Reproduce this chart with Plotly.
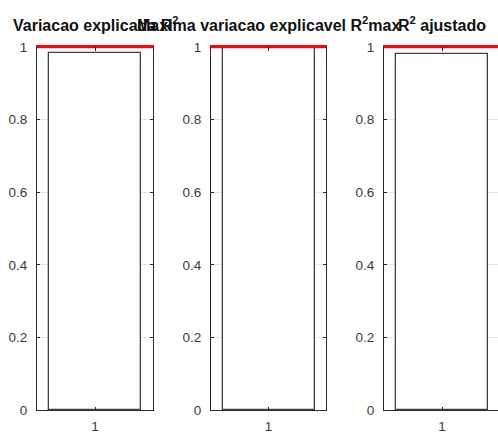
import plotly.graph_objects as go

# Model fit summary: one bar per panel, reference line at the maximum (1)
panel_titles = ["Variacao explicada R<sup>2</sup>",
                "Maxima variacao explicavel R<sup>2</sup>max",
                "R<sup>2</sup> ajustado"]
categories = [1]
r2_values = [0.983]
r2max_values = [1.0]
r2adj_values = [0.980]
reference_level = [1.0, 1.0]
reference_x = [0.5, 1.5]
y_ticks = [0, 0.2, 0.4, 0.6, 0.8, 1]
y_tick_labels = ["0", "0.2", "0.4", "0.6", "0.8", "1"]

W, H = 498, 433
FONT = "Liberation Sans, Arial, Helvetica, sans-serif"
AXIS_COLOR = "#2a2a2a"
GRID_COLOR = "#e4e4e4"
RED = "#e01010"
TICK_FONT = dict(family=FONT, size=13.5, color="#3a3a3a")

# panel extents in pixels (left, right); the third panel runs past the window edge
panels_px = [(37, 153), (211, 326), (384, 500)]
top_px, bottom_px = 47, 410

fig = go.Figure()
series = [r2_values, r2max_values, r2adj_values]
n_panels = len(series)

for i, (vals, (l, r)) in enumerate(zip(series, panels_px)):
    n = i + 1
    xa = "x" if n == 1 else f"x{n}"
    ya = "y" if n == 1 else f"y{n}"
    top_n = n + n_panels  # overlay x axis carrying the top edge of the box
    fig.add_trace(go.Bar(x=categories, y=vals, width=0.8,
                         marker=dict(color="white",
                                     line=dict(color="#404040", width=1.3)),
                         xaxis=xa, yaxis=ya, showlegend=False,
                         hoverinfo="skip"))
    # red reference line at the maximum level
    fig.add_trace(go.Scatter(x=reference_x, y=reference_level, mode="lines",
                             line=dict(color=RED, width=2.4),
                             xaxis=xa, yaxis=ya, showlegend=False,
                             hoverinfo="skip"))

    clipped_r = min(r, W)
    x_hi = 0.5 + (clipped_r - l) / (r - l)
    x_dom = [l / W, clipped_r / W]
    y_dom = [(H - bottom_px) / H, (H - top_px) / H]
    mirror = "ticks" if r <= W else False

    xkey = "xaxis" if n == 1 else f"xaxis{n}"
    ykey = "yaxis" if n == 1 else f"yaxis{n}"
    fig.update_layout({
        xkey: dict(domain=x_dom, range=[0.5, x_hi], anchor=ya, side="bottom",
                   tickvals=categories, ticktext=["1"],
                   ticks="inside", ticklen=3, tickcolor=AXIS_COLOR,
                   showline=True, linecolor=AXIS_COLOR, linewidth=1,
                   mirror=False, showgrid=True, gridcolor=GRID_COLOR,
                   zeroline=False, fixedrange=True, automargin=False,
                   ticklabelstandoff=4, tickfont=TICK_FONT),
        f"xaxis{top_n}": dict(domain=x_dom, range=[0.5, x_hi], anchor=ya,
                              overlaying=xa, side="top",
                              tickvals=categories, showticklabels=False,
                              ticks="inside", ticklen=4, tickcolor=AXIS_COLOR,
                              showline=True, linecolor=RED, linewidth=1.8,
                              showgrid=False, zeroline=False, fixedrange=True,
                              automargin=False),
        ykey: dict(domain=y_dom, range=[0, 1], anchor=xa,
                   tickvals=y_ticks, ticktext=y_tick_labels,
                   ticks="inside", ticklen=3, tickcolor=AXIS_COLOR,
                   showline=True, linecolor=AXIS_COLOR, linewidth=1,
                   mirror=mirror, showgrid=True, gridcolor=GRID_COLOR,
                   zeroline=False, fixedrange=True, automargin=False,
                   ticklabelstandoff=6, tickfont=TICK_FONT),
    })
    # empty trace so the top overlay axis is drawn
    fig.add_trace(go.Scatter(x=[], y=[], xaxis=f"x{top_n}", yaxis=ya,
                             showlegend=False, hoverinfo="skip"))

annotations = []
for title, (l, r) in zip(panel_titles, panels_px):
    annotations.append(dict(text=f"<b>{title}</b>", x=(l + r) / 2 / W,
                            y=(H - 24) / H, xref="paper", yref="paper",
                            xanchor="center", yanchor="middle",
                            showarrow=False,
                            font=dict(family=FONT, size=16, color="#111111")))

fig.update_layout(width=W, height=H, margin=dict(l=0, r=0, t=0, b=0),
                  paper_bgcolor="white", plot_bgcolor="white",
                  annotations=annotations, bargap=0)

fig.write_html("out.html")
